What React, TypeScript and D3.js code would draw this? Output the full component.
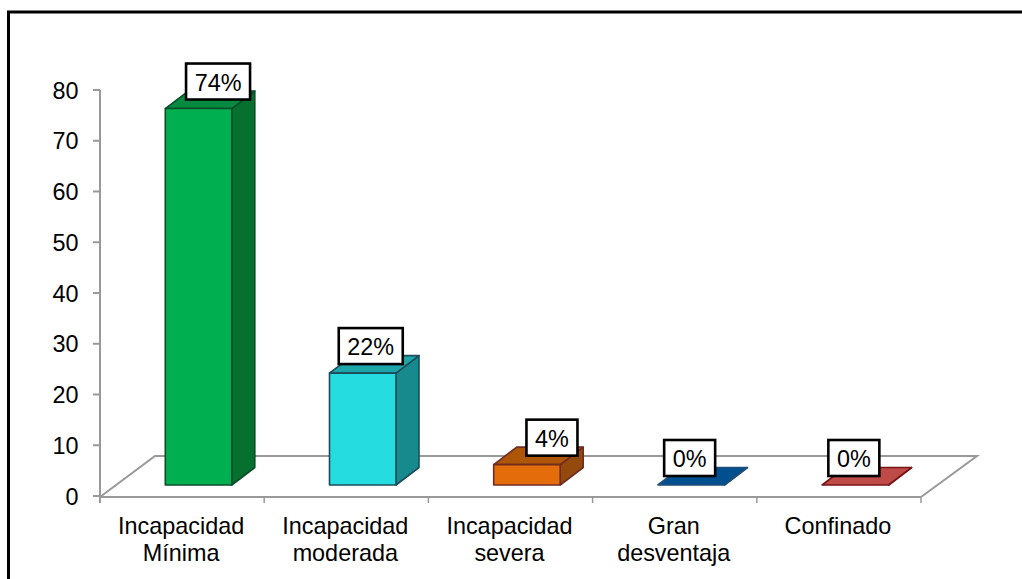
import React from "react";
import * as d3 from "d3";

const categories = [
  ["Incapacidad", "Mínima"],
  ["Incapacidad", "moderada"],
  ["Incapacidad", "severa"],
  ["Gran", "desventaja"],
  ["Confinado"],
];
const values = [74, 22, 4, 0, 0];
const valueLabels = ["74%", "22%", "4%", "0%", "0%"];
const yTicks = [0, 10, 20, 30, 40, 50, 60, 70, 80];

const frontColors = ["#00B050", "#25DCE0", "#E46C0A", "#00508F", "#BE4B48"];
const sideColors = ["#06702F", "#178A8D", "#934A0C", "#003C6E", "#8E3230"];
const topColors = ["#068A3F", "#1CA6A9", "#AE5608", "#00508F", "#BE4B48"];
const edgeColors = ["#0A4D2A", "#1D4D5C", "#6F2C22", "#1F4E79", "#7A1414"];

// Horizontal nudge of each value tag from its bar centre.
const tagShiftX = [19.5, 8, 25, -1.5, -1.5];
const TAG_RAISE = 9;

const W = 1022;
const H = 579;
const FONT = "'Liberation Sans', Arial, sans-serif";
const FONT_SIZE = 23.4;
const AXIS = "#999999";

const axisY = d3.scaleLinear().domain([0, 80]).range([496, 90]);
const barY = d3.scaleLinear().domain([0, 80]).range([485, 78]);
const band = d3
  .scaleBand<number>()
  .domain(values.map((_, i) => i))
  .range([100, 921]);

const FLOOR_DX = 55;
const FLOOR_DY = -41;
const BAR_DX = 23;
const BAR_DY = -17.5;
const BAR_W = 66.5;
const BAR_INSET = 65.3;
const BASE_Y = axisY(0) + 1;

const pts = (p: number[][]) => p.map((d) => d.join(",")).join(" ");

export default function App() {
  const left = band(0)!;
  const right = left + band.step() * values.length;
  return (
    <svg
      width={W}
      height={H}
      style={{ position: "absolute", left: 0, top: 0, display: "block" }}
      fontFamily={FONT}
    >
      <rect width={W} height={H} fill="#fff" />
      {/* Frame: only top and left edges fall inside the page */}
      <path d={`M8.5 ${H} V12 H${W}`} fill="none" stroke="#000" strokeWidth={3} />

      {/* Floor outline */}
      <path
        d={`M${left} ${BASE_Y} L${left + FLOOR_DX} ${BASE_Y + FLOOR_DY} H${right + FLOOR_DX + 1} L${right} ${BASE_Y}`}
        fill="none"
        stroke={AXIS}
        strokeWidth={2}
      />

      {/* Value axis */}
      <line x1={left} x2={left} y1={axisY(80)} y2={BASE_Y + 6} stroke={AXIS} strokeWidth={2} />
      {yTicks.map((t) => (
        <g key={t}>
          <line x1={left - 7} x2={left} y1={axisY(t)} y2={axisY(t)} stroke={AXIS} strokeWidth={2} />
          <text x={78.5} y={axisY(t) + 8.5} textAnchor="end" fontSize={FONT_SIZE} fill="#000">
            {t}
          </text>
        </g>
      ))}

      {/* Category axis */}
      <line x1={left} x2={right} y1={BASE_Y} y2={BASE_Y} stroke={AXIS} strokeWidth={2} />
      {values.map((_, i) => (
        <line
          key={i}
          x1={band(i)! + band.step()}
          x2={band(i)! + band.step()}
          y1={BASE_Y}
          y2={BASE_Y + 6}
          stroke={AXIS}
          strokeWidth={1.5}
        />
      ))}
      {categories.map((lines, i) => (
        <text key={i} textAnchor="middle" fontSize={FONT_SIZE} fill="#000">
          {lines.map((l, j) => (
            <tspan key={j} x={band(i)! + band.step() / 2 - 1} y={533.5 + j * 27}>
              {l}
            </tspan>
          ))}
        </text>
      ))}

      {/* Bars drawn as front, side and top faces */}
      {values.map((v, i) => {
        const x0 = band(i)! + BAR_INSET;
        const x1 = x0 + BAR_W;
        const yTop = barY(v);
        const yBot = barY(0);
        const edge = { stroke: edgeColors[i], strokeWidth: 1.6, strokeLinejoin: "round" as const };
        return (
          <g key={i}>
            <polygon
              points={pts([[x1, yTop], [x1 + BAR_DX, yTop + BAR_DY], [x1 + BAR_DX, yBot + BAR_DY], [x1, yBot]])}
              fill={sideColors[i]}
              {...edge}
            />
            <polygon
              points={pts([[x0, yTop], [x0 + BAR_DX, yTop + BAR_DY], [x1 + BAR_DX, yTop + BAR_DY], [x1, yTop]])}
              fill={topColors[i]}
              {...edge}
            />
            <rect x={x0} y={yTop} width={BAR_W} height={yBot - yTop} fill={frontColors[i]} {...edge} />
          </g>
        );
      })}

      {/* Value tags */}
      {values.map((v, i) => {
        const cx = band(i)! + BAR_INSET + BAR_W / 2 + tagShiftX[i];
        const boxW = valueLabels[i].length === 3 ? 64 : 51;
        const boxBottom = barY(v) - TAG_RAISE;
        return (
          <g key={i}>
            <rect
              x={cx - boxW / 2}
              y={boxBottom - 36}
              width={boxW}
              height={36}
              fill="#fff"
              stroke="#000"
              strokeWidth={2.6}
            />
            <text x={cx} y={boxBottom - 9} textAnchor="middle" fontSize={FONT_SIZE} fill="#000">
              {valueLabels[i]}
            </text>
          </g>
        );
      })}
    </svg>
  );
}
